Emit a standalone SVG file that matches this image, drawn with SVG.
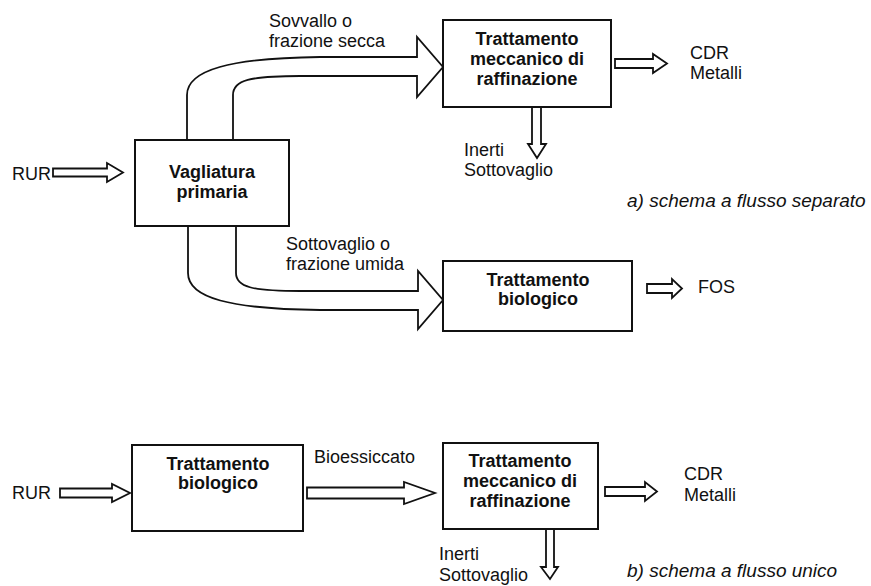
<svg xmlns="http://www.w3.org/2000/svg" width="871" height="586" viewBox="0 0 871 586">
<style>
.box{fill:#fff;stroke:#111;stroke-width:2}
.arr{fill:#fff;stroke:#111;stroke-width:1.8;stroke-linejoin:miter}
text{font-family:"Liberation Sans",Arial,sans-serif;font-size:18px;fill:#111}
.b{font-weight:bold;text-anchor:middle}
.cap{font-style:italic;font-size:19px}
</style>
<rect width="871" height="586" fill="#fff"/>
<g id="connectors">
<polygon class="arr" points="53,168.5 107,168.5 107,163 123,172.5 107,182 107,176.5 53,176.5"/>
<path class="arr" d="M187,140 L187,95 C187,70 230,58 320,57 L417,57 L417,37 L443,67 L417,97 L417,76 L300,76 C250,76 233,80 233,95 L233,140"/>
<path class="arr" d="M188,226 L188,273 C188,298 230,309 320,310 L418,310 L418,329 L443,300 L418,271 L418,291 L300,291 C252,291 236,287 236,273 L236,226"/>
<polygon class="arr" points="615,59 653,59 653,54 667,63.5 653,73 653,68 615,68"/>
<polygon class="arr" points="532,107 541,107 541,144 546,144 537,158 528,144 532,144"/>
<polygon class="arr" points="647,284 672,284 672,279 682,288.5 672,298 672,293 647,293"/>
<polygon class="arr" points="60,488.5 112,488.5 112,484 130,493 112,502 112,497.5 60,497.5"/>
<polygon class="arr" points="307,487.5 404,487.5 404,482 435,493 404,504 404,498.5 307,498.5"/>
<polygon class="arr" points="605,487 645,487 645,482 657,491.5 645,501 645,496 605,496"/>
<polygon class="arr" points="546,529 554,529 554,567 558,567 550,579 541,567 546,567"/>
</g>
<g id="vagliatura">
<rect class="box" x="135" y="140" width="154" height="86"/>
<text class="b" x="212" y="178">Vagliatura</text>
<text class="b" x="212" y="198">primaria</text>
</g>
<g id="tmr-a">
<rect class="box" x="443" y="20" width="168" height="87"/>
<text class="b" x="527" y="45">Trattamento</text>
<text class="b" x="527" y="65">meccanico di</text>
<text class="b" x="527" y="85">raffinazione</text>
</g>
<g id="bio-a">
<rect class="box" x="443" y="261" width="189" height="70"/>
<text class="b" x="538" y="286">Trattamento</text>
<text class="b" x="538" y="305">biologico</text>
</g>
<g id="bio-b">
<rect class="box" x="132" y="445" width="171" height="86"/>
<text class="b" x="218" y="470">Trattamento</text>
<text class="b" x="218" y="489">biologico</text>
</g>
<g id="tmr-b">
<rect class="box" x="443" y="443" width="155" height="86"/>
<text class="b" x="520" y="467">Trattamento</text>
<text class="b" x="520" y="487">meccanico di</text>
<text class="b" x="520" y="507">raffinazione</text>
</g>
<g id="labels">
<text x="12" y="180">RUR</text>
<text x="269" y="27">Sovvallo o</text>
<text x="269" y="47">frazione secca</text>
<text x="286" y="250">Sottovaglio o</text>
<text x="286" y="270">frazione umida</text>
<text x="690" y="59">CDR</text>
<text x="690" y="79">Metalli</text>
<text x="464" y="156">Inerti</text>
<text x="464" y="176">Sottovaglio</text>
<text x="698" y="293">FOS</text>
<text class="cap" x="627" y="207">a) schema a flusso separato</text>
<text x="12" y="499">RUR</text>
<text x="314" y="463">Bioessiccato</text>
<text x="684" y="480">CDR</text>
<text x="684" y="501">Metalli</text>
<text x="439" y="560">Inerti</text>
<text x="439" y="581">Sottovaglio</text>
<text class="cap" x="627" y="577">b) schema a flusso unico</text>
</g>
</svg>
